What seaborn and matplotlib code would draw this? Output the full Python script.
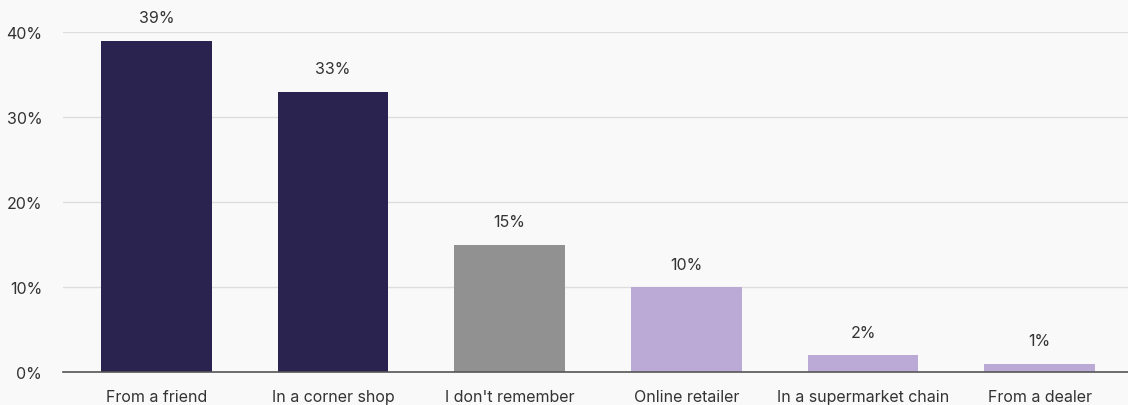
import matplotlib
matplotlib.use("Agg")
import matplotlib.pyplot as plt
import seaborn as sns
import pandas as pd

categories = ["From a friend", "In a corner shop", "I don't remember",
              "Online retailer", "In a supermarket chain", "From a dealer"]
values = [39, 33, 15, 10, 2, 1]
bar_colors = ["#2a2350", "#2a2350", "#919191", "#bbaad6", "#bbaad6", "#bbaad6"]
y_ticks = [0, 10, 20, 30, 40]
y_tick_labels = ["0%", "10%", "20%", "30%", "40%"]

df = pd.DataFrame({"source": categories, "share": values})

sns.set_theme(style="white")
plt.rcParams["font.family"] = ["Inter", "DejaVu Sans"]

bg = "#f9f9f9"
fig = plt.figure(figsize=(11.28, 4.06), dpi=100, facecolor=bg)
ax = fig.add_axes([63 / 1128, 1 - 373 / 406, 1 - 63 / 1128, 340 / 406])
ax.set_facecolor(bg)

sns.barplot(data=df, x="source", y="share", hue="source", palette=bar_colors,
            legend=False, width=0.628, saturation=1, linewidth=0, ax=ax)

ax.set_ylim(0, 40)
ax.set_xlim(-0.5 - 5 / 176.8, len(categories) - 0.5)
ax.set_yticks(y_ticks)
ax.set_yticklabels(y_tick_labels)
ax.grid(axis="y", color="#dddddd", linewidth=1)
ax.set_axisbelow(True)
for s in ["top", "right", "left"]:
    ax.spines[s].set_visible(False)
ax.spines["bottom"].set_color("#555555")
ax.spines["bottom"].set_linewidth(1.2)
ax.tick_params(axis="y", length=0, pad=15, labelsize=11.5, labelcolor="#333333")
ax.tick_params(axis="x", length=0, pad=12.5, labelsize=11.5, labelcolor="#333333")
ax.set_xlabel("")
ax.set_ylabel("")

for i, v in enumerate(values):
    ax.annotate(f"{v}%", xy=(i, v), xytext=(0, 16.5), textcoords="offset points",
                ha="center", va="center", fontsize=11.5, color="#333333",
                annotation_clip=False)

fig.savefig("out.png", dpi=100, facecolor=bg)
